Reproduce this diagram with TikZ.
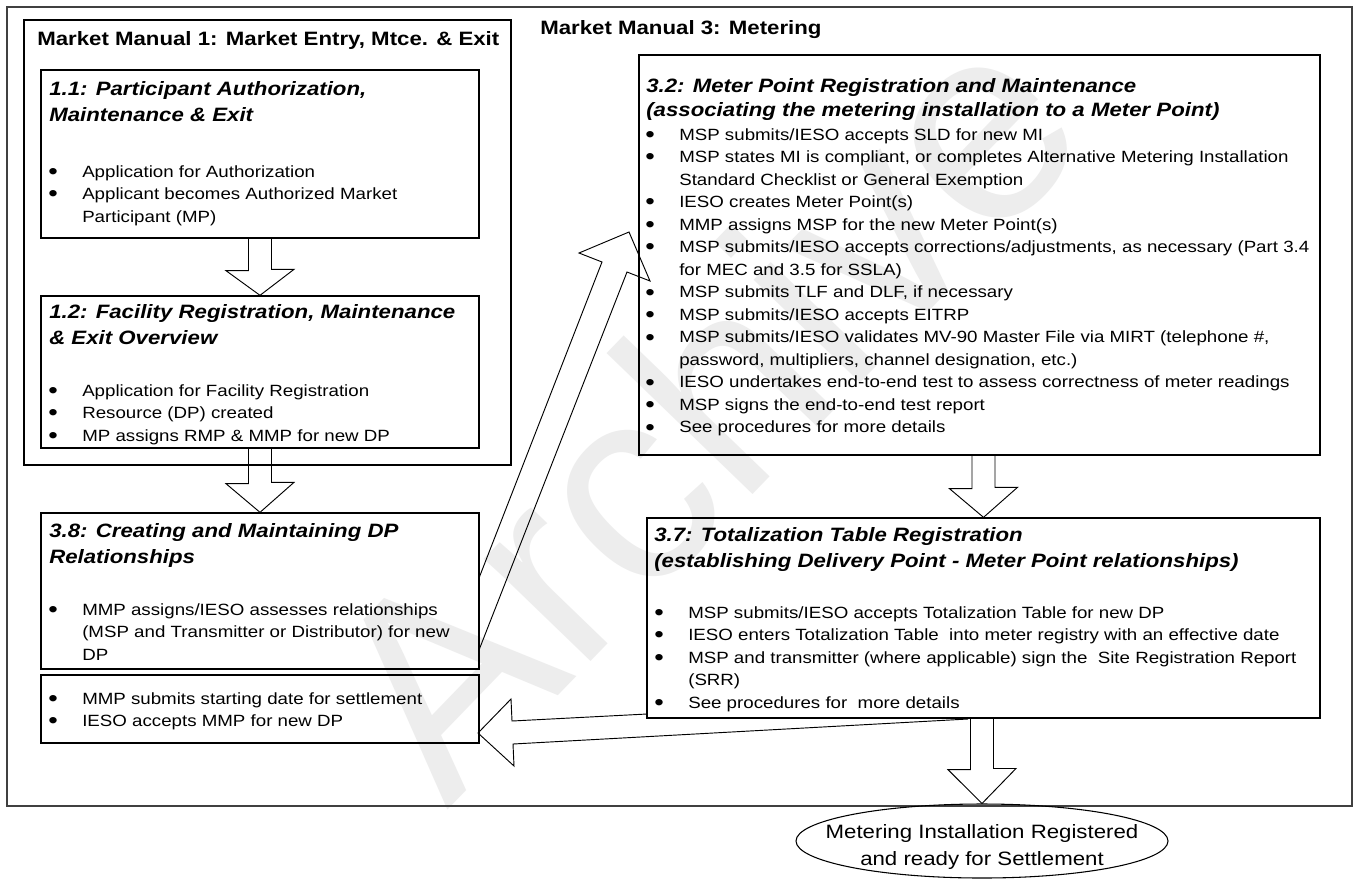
\documentclass[tikz,border=0pt]{standalone}
\usepackage{fontspec}
\usepackage{graphicx}
\setmainfont{Liberation Sans}[FakeStretch=1.15]
\newfontfamily\wmfont{Liberation Sans}
\usetikzlibrary{shapes.geometric,fit}
\newcommand\ftitle{\fontsize{14.5}{17}\selectfont\bfseries}
\newcommand\fhead{\fontsize{14.5}{17}\selectfont\bfseries\itshape}
\newcommand\fbody{\fontsize{12.2}{14}\selectfont}
\newcommand\fell{\fontsize{14.5}{17}\selectfont}
\newcommand\bigbullet{\raisebox{-0.14em}{\scalebox{1.45}{\textbullet}}}
\newcommand\bl[1]{\noindent\llap{\makebox[25.5pt][l]{\bigbullet}}#1\par}
\newcommand\blist[2]{\vtop{\hsize=800pt\fbody\baselineskip=#1\parindent=0pt\parskip=0pt\leftskip=25.5pt\rightskip=0pt plus 1fil #2}}
\newcommand\hlist[2]{\vtop{\hsize=800pt\fhead\baselineskip=#1\parindent=0pt\parskip=0pt\rightskip=0pt plus 1fil\noindent #2\par}}
\tikzset{
  box/.style={draw, line width=1pt, inner sep=0pt},
  outerbox/.style={draw=black!75, line width=0.8pt, inner sep=0pt},
  blk/.style={draw, line width=0.7pt, line join=miter},
  txt/.style={anchor=base west, inner sep=0pt},
}
\begin{document}
\begin{tikzpicture}[x=0.75pt, y=-0.75pt]
\useasboundingbox[fill=white] (0,0) rectangle (1355,879);
% watermark
\node[rotate=46, text=black!7, font=\wmfont\fontsize{210}{210}\selectfont, inner sep=0pt] (wm) at (700,405) {Archive};
% frames
\node[outerbox, fit={(7,7) (1352,806)}] (outer) {};
\node[box, line width=0.9pt, fit={(24,20) (511,465)}] (mm1) {};
\node[box, fit={(41,70) (479,238)}] (b11) {};
\node[box, fit={(41,296) (479,448)}] (b12) {};
\node[box, fit={(41,513) (479,669)}] (b38) {};
\node[box, fit={(41,675) (479,743)}] (bl) {};
\node[box, fit={(639,55) (1320,455)}] (b32) {};
\node[box, fit={(647,518) (1320,718)}] (b37) {};
\node[draw, ellipse, line width=0.8pt, minimum width=279pt, minimum height=55.5pt, inner sep=0pt] (ell) at (982,841) {};
% block arrows
\draw[blk] (b11.south) ++(-11.5,0) -- ++(0,32) -- ++(-22.5,0) -- (b12.north) -- ++(34,-26) -- ++(-22.5,0) -- ++(0,-32);
\draw[blk] (b12.south) ++(-11.5,0) -- ++(0,35) -- ++(-22.5,0) -- (b38.north) -- ++(34,-30) -- ++(-22.5,0) -- ++(0,-35);
\draw[blk] (b37.north |- b32.south) ++(-11.5,0) -- ++(0,33) -- ++(-22.5,0) -- (b37.north) -- ++(34,-30) -- ++(-22.5,0) -- ++(0,-33);
\draw[blk] (ell.north |- b37.south) ++(-11.5,0) -- ++(0,51) -- ++(-22.5,0) -- (ell.north) -- ++(34,-35) -- ++(-22.5,0) -- ++(0,-51);
\draw[blk] (479,650) -- (627,272) -- (650,281) -- (629,232) -- (579,253) -- (602,262) -- (479,578);
\draw[blk] (647,714) -- (512,721) -- (511,699) -- (478,733) -- (514,766) -- (513,744) -- (968,719);
% titles
\node[txt, font=\ftitle] (t1) at (37,45) {Market Manual 1: Market Entry, Mtce. \& Exit};
\node[txt, font=\ftitle] (t3) at (540,34) {Market Manual 3: Metering};
% headings
\node[txt] (h11) at (49,95) {\hlist{19.9pt}{1.1: Participant Authorization,\newline Maintenance \& Exit}};
\node[txt] (h12) at (49,318) {\hlist{19.9pt}{1.2: Facility Registration, Maintenance\newline \& Exit Overview}};
\node[txt] (h38) at (49,537) {\hlist{19.9pt}{3.8: Creating and Maintaining DP\newline Relationships}};
\node[txt] (h32) at (646,92) {\hlist{18pt}{3.2: Meter Point Registration and Maintenance\newline (associating the metering installation to a Meter Point)}};
\node[txt] (h37) at (654,541) {\hlist{20.1pt}{3.7: Totalization Table Registration\newline (establishing Delivery Point - Meter Point relationships)}};
% bodies
\node[txt] (l11) at (48,177) {\blist{16.95pt}{%
\bl{Application for Authorization}%
\bl{Applicant becomes Authorized Market\newline Participant (MP)}}};
\node[txt] (l12) at (48,396) {\blist{16.95pt}{%
\bl{Application for Facility Registration}%
\bl{Resource (DP) created}%
\bl{MP assigns RMP \& MMP for new DP}}};
\node[txt] (l38) at (48,615) {\blist{16.95pt}{%
\bl{MMP assigns/IESO assesses relationships\newline (MSP and Transmitter or Distributor) for new\newline DP}}};
\node[txt] (lbl) at (48,704) {\blist{16.95pt}{%
\bl{MMP submits starting date for settlement}%
\bl{IESO accepts MMP for new DP}}};
\node[txt] (l32) at (645,140) {\blist{16.9pt}{%
\bl{MSP submits/IESO accepts SLD for new MI}%
\bl{MSP states MI is compliant, or completes Alternative Metering Installation\newline Standard Checklist or General Exemption}%
\bl{IESO creates Meter Point(s)}%
\bl{MMP assigns MSP for the new Meter Point(s)}%
\bl{MSP submits/IESO accepts corrections/adjustments, as necessary (Part 3.4\newline for MEC and 3.5 for SSLA)}%
\bl{MSP submits TLF and DLF, if necessary}%
\bl{MSP submits/IESO accepts EITRP}%
\bl{MSP submits/IESO validates MV-90 Master File via MIRT (telephone \#,\newline password, multipliers, channel designation, etc.)}%
\bl{IESO undertakes end-to-end test to assess correctness of meter readings}%
\bl{MSP signs the end-to-end test report}%
\bl{See procedures for more details}}};
\node[txt] (l37) at (654,618) {\blist{16.95pt}{%
\bl{MSP submits/IESO accepts Totalization Table for new DP}%
\bl{IESO enters Totalization Table\ \ into meter registry with an effective date}%
\bl{MSP and transmitter (where applicable) sign the\ \ Site Registration Report\newline (SRR)}%
\bl{See procedures for\ \ more details}}};
% ellipse text
\node[anchor=base, inner sep=0pt] (et) at (982,838) {\vtop{\hsize=300pt\fell\baselineskip=20.25pt\parskip=0pt\centering Metering Installation Registered\par and ready for Settlement\par}};
\end{tikzpicture}
\end{document}
